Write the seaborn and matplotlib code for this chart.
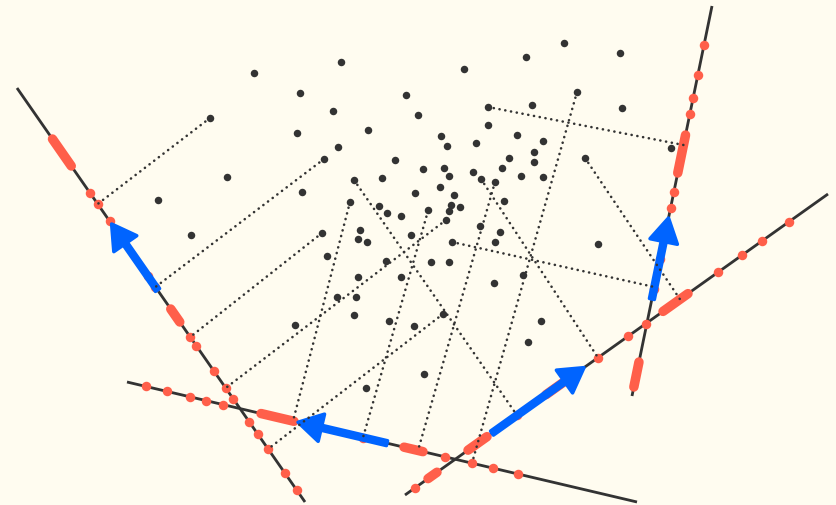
import matplotlib
matplotlib.use("Agg")
import matplotlib.pyplot as plt
import numpy as np
import pandas as pd
import seaborn as sns
from matplotlib.patches import FancyArrow

W, H = 836, 506
BG = "#fffcf0"
INK = "#333333"
RED = "#ff5f4a"
BLUE = "#0064ff"

# point cloud (canvas units, y grows downward)
point_x = [210, 254, 341, 300, 333, 297, 368, 338, 324, 227, 158, 302, 354, 382, 350,
           379, 387, 564, 526, 620, 464, 406, 418, 488, 532, 577, 622, 488, 441, 447,
           476, 517, 543, 395, 423, 444, 449, 473, 481, 495, 509, 502, 534, 534, 521,
           543, 585, 440, 415, 454, 451, 460, 428, 449, 504, 401, 191, 322, 327, 360,
           358, 367, 386, 358, 337, 356, 354, 295, 389, 366, 446, 480, 500, 411, 452,
           495, 431, 449, 401, 523, 494, 598, 414, 443, 541, 528, 424, 671]
point_y = [119, 74, 63, 94, 112, 134, 131, 148, 160, 178, 201, 193, 181, 179, 203,
           207, 214, 44, 58, 54, 70, 96, 116, 108, 106, 93, 109, 126, 137, 147,
           144, 136, 142, 161, 170, 169, 177, 173, 180, 183, 159, 169, 153, 163, 177,
           178, 159, 188, 194, 196, 206, 208, 211, 212, 202, 217, 236, 234, 257, 231,
           240, 243, 262, 278, 298, 298, 316, 326, 322, 389, 221, 227, 233, 236, 243,
           243, 263, 263, 278, 276, 284, 245, 327, 315, 322, 343, 375, 149]

# four projection axes, each given by its two end points
axis_x0 = [17, 127, 405, 632]
axis_y0 = [89, 383, 496, 397]
axis_x1 = [305, 637, 828, 712]
axis_y1 = [503, 503, 195, 7]
# coordinate used to place marks along each axis
axis_coord = ["y", "x", "x", "y"]

# projected values on each axis: single marks and dense runs
proj_dots = [
    [194, 205, 222, 240, 277, 288, 338, 347, 372, 389, 400, 423, 435, 450, 474, 491],
    [146, 167, 190, 206, 223, 363, 445, 472, 493, 518],
    [415, 517, 598, 628, 646, 718, 742, 762, 789],
    [46, 76, 99, 115, 193, 209, 260, 290],
]
proj_runs = [
    [(140, 167), (310, 323)],
    [(261, 294), (404, 423)],
    [(428, 437), (468, 487), (546, 567), (663, 688)],
    [(136, 174), (363, 388)],
]

# direction vectors drawn on each axis
arrow_from = [291, 387, 492, 300]
arrow_to = [225, 298, 584, 219]

# points joined to their projection on an axis
link_x = [[210, 324, 322, 446, 443], [350, 428, 495, 577], [354, 481, 585], [488, 452]]
link_y = [[119, 160, 234, 221, 315], [203, 212, 183, 93], [181, 180, 159], [108, 243]]
link_foot = [[205, 288, 338, 389, 450], [293, 363, 418, 472], [517, 598, 680], [146, 288]]


def on_axis(k, v):
    x0, y0, x1, y1 = axis_x0[k], axis_y0[k], axis_x1[k], axis_y1[k]
    if axis_coord[k] == "y":
        t = (v - y0) / (y1 - y0)
    else:
        t = (v - x0) / (x1 - x0)
    return x0 + t * (x1 - x0), y0 + t * (y1 - y0)


sns.set_theme(style="white")
fig = plt.figure(figsize=(W / 100, H / 100), dpi=100)
fig.patch.set_facecolor(BG)
ax = fig.add_axes([0, 0, 1, 1])
ax.set_facecolor(BG)

px = 100 / 72  # pixels per point

for k in range(4):
    # axis line
    ax.plot([axis_x0[k], axis_x1[k]], [axis_y0[k], axis_y1[k]],
            color=INK, lw=2.8 / px, solid_capstyle="butt", zorder=1)

    # projected values
    for a, b in proj_runs[k]:
        (xa, ya), (xb, yb) = on_axis(k, a), on_axis(k, b)
        ax.plot([xa, xb], [ya, yb], color=RED, lw=9.5 / px,
                solid_capstyle="round", zorder=2)
    dots = pd.DataFrame([on_axis(k, v) for v in proj_dots[k]], columns=["x", "y"])
    sns.scatterplot(data=dots, x="x", y="y", ax=ax, color=RED,
                    s=(9.5 / px) ** 2, linewidth=0, zorder=2, legend=False)

    # dotted connectors
    for sx, sy, f in zip(link_x[k], link_y[k], link_foot[k]):
        fx, fy = on_axis(k, f)
        ax.plot([sx, fx], [sy, fy], color=INK, lw=2.6 / px,
                linestyle=(0, (0.05, 2.2)), dash_capstyle="round", zorder=4)

    # direction vector
    (ax0, ay0), (ax1, ay1) = on_axis(k, arrow_from[k]), on_axis(k, arrow_to[k])
    ax.add_patch(FancyArrow(ax0, ay0, ax1 - ax0, ay1 - ay0, width=5.0,
                            head_width=28, head_length=24,
                            length_includes_head=True, facecolor=BLUE,
                            edgecolor=BLUE, lw=2.5, joinstyle="round", zorder=3))

cloud = pd.DataFrame({"x": point_x, "y": point_y})
sns.scatterplot(data=cloud, x="x", y="y", ax=ax, color=INK, s=(7.5 / px) ** 2,
                linewidth=0, zorder=5, legend=False)

ax.set_xlim(0, W)
ax.set_ylim(H, 0)
ax.set_aspect("auto")
ax.axis("off")

fig.savefig("out.png", dpi=100, facecolor=BG)
